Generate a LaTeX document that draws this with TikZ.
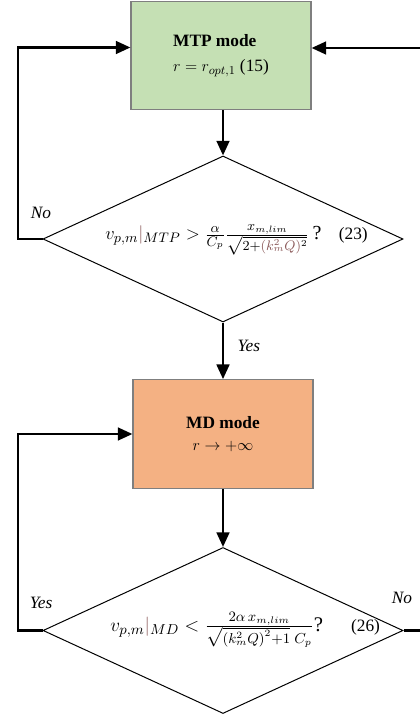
\documentclass[tikz,border=0pt]{standalone}
\usepackage{graphicx}
\usepackage{fontspec}
\setmainfont{Liberation Serif}
\usetikzlibrary{shapes.geometric,arrows.meta}
\definecolor{mtpgreen}{HTML}{C5E0B4}
\definecolor{mdorange}{HTML}{F4B183}
\definecolor{boxline}{HTML}{7F7F7F}
\definecolor{brn}{HTML}{8B5A5A}
\begin{document}
\begin{tikzpicture}[x=0.75pt,y=-0.75pt,
  modebox/.style={draw=boxline,line width=0.8pt,minimum width=135pt,minimum height=81.5pt,inner sep=0pt,align=left,font=\fontsize{13}{19}\selectfont},
  dia/.style={draw,diamond,line width=0.75pt,minimum width=270pt,minimum height=124.5pt,inner sep=0pt},
  formula/.style={inner sep=0pt,font=\fontsize{13}{15}\selectfont},
  conn/.style={line width=2pt,-{Triangle[length=11pt,width=9.5pt]}},
  plainconn/.style={line width=2pt},
  lbl/.style={inner sep=0pt,font=\fontsize{13}{15}\selectfont\itshape}]
\useasboundingbox (0,0) rectangle (420,716);

% nodes
\node[modebox,fill=mtpgreen] (mtp) at (221,55.5)
  {\textbf{MTP mode}\\ $r = r_{opt,1}$ (15)};
\node[dia] (d1) at (223,239) {};
\node[formula,anchor=west] (f1) at (105,240)
  {\scalebox{1.15}{$v_{p,m}\textcolor{brn}{\big|}_{MTP} > \frac{\alpha}{C_p}\frac{x_{m,lim}}{\sqrt{2+\textcolor{brn}{\left(k_m^2Q\right)}^2}}$\,?}\hspace{13pt}(23)};
\node[modebox,fill=mdorange,align=center,font=\fontsize{13}{16}\selectfont] (md) at (223,434)
  {\textbf{MD mode}\\ $r \rightarrow +\infty$};
\node[dia] (d2) at (223,630.5) {};
\node[formula,anchor=west] (f2) at (110,630)
  {\scalebox{1.2}{$v_{p,m}\textcolor{brn}{\big|}_{MD} < \frac{2\alpha\, x_{m,lim}}{\sqrt{\left(k_m^2Q\right)^2+1}\;C_p}$?}\hspace{21pt}(26)};

% free ends
\coordinate (r1) at (420,48);
\coordinate (r2) at (420,630.5);
\coordinate (l1) at (18,239);
\coordinate (l2) at (18,630.5);

% connectors
\draw[conn] (d1.north |- mtp.south) -- (d1);
\draw[conn] (d1) -- node[lbl,right=10pt,pos=0.42]{Yes} (md);
\draw[conn] (md) -- (d2);
\draw[conn] (d1.west) -- (l1) |- ([yshift=6pt]mtp.west);
\draw[conn] (r1) -- (r1 -| mtp.east);
\draw[conn] (d2.west) -- (l2) |- (md.west);
\draw[plainconn] (d2.east) -- (r2);

% labels
\node[lbl] at (41,213) {No};
\node[lbl] at (41,603) {Yes};
\node[lbl] at (402,598) {No};
\end{tikzpicture}
\end{document}
